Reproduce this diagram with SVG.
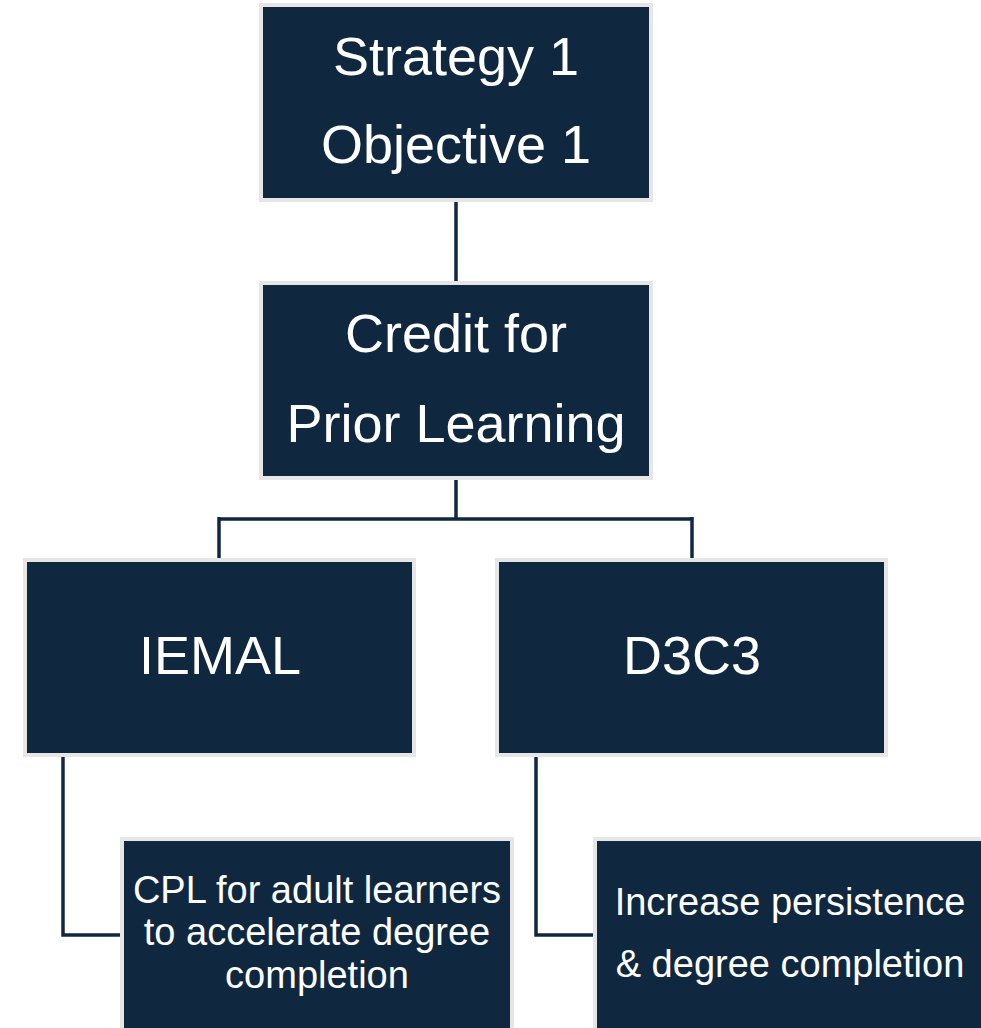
<svg xmlns="http://www.w3.org/2000/svg" width="981" height="1028" viewBox="0 0 981 1028">
<style>
.box{fill:#10283f;stroke:#e6e6e6;stroke-width:4}
.lbl{font-family:"Liberation Sans",Arial,sans-serif;fill:#ffffff;text-anchor:middle}
.big{font-size:54px}
.sm{font-size:38px}
.conn{fill:none;stroke:#10283f;stroke-width:3.5}
</style>
<rect width="981" height="1028" fill="#ffffff"/>
<g id="connectors">
<path class="conn" d="M456,202 V283"/>
<path class="conn" d="M456,479 V519 M219,519 H692 M219,517 V558 M692,517 V558"/>
<path class="conn" d="M63,757 V935 H121"/>
<path class="conn" d="M536,757 V935 H593"/>
</g>
<g id="strategy">
<rect class="box" x="261" y="5" width="390" height="195"/>
<text class="lbl big" x="456" y="75">Strategy 1</text>
<text class="lbl big" x="456" y="163">Objective 1</text>
</g>
<g id="cpl">
<rect class="box" x="261" y="283" width="390" height="195"/>
<text class="lbl big" x="456" y="352">Credit for</text>
<text class="lbl big" x="456" y="442">Prior Learning</text>
</g>
<g id="iemal">
<rect class="box" x="25" y="560" width="389" height="195"/>
<text class="lbl big" x="220" y="674">IEMAL</text>
</g>
<g id="d3c3">
<rect class="box" x="497" y="560" width="389" height="195"/>
<text class="lbl big" x="692" y="674">D3C3</text>
</g>
<g id="cpl-adult">
<rect class="box" x="122" y="839" width="390" height="200"/>
<text class="lbl sm" x="317" y="903">CPL for adult learners</text>
<text class="lbl sm" x="317" y="945">to accelerate degree</text>
<text class="lbl sm" x="317" y="988">completion</text>
</g>
<g id="persistence">
<rect class="box" x="595" y="839" width="400" height="200"/>
<text class="lbl sm" x="790" y="915">Increase persistence</text>
<text class="lbl sm" x="790" y="977">&amp; degree completion</text>
</g>
</svg>
